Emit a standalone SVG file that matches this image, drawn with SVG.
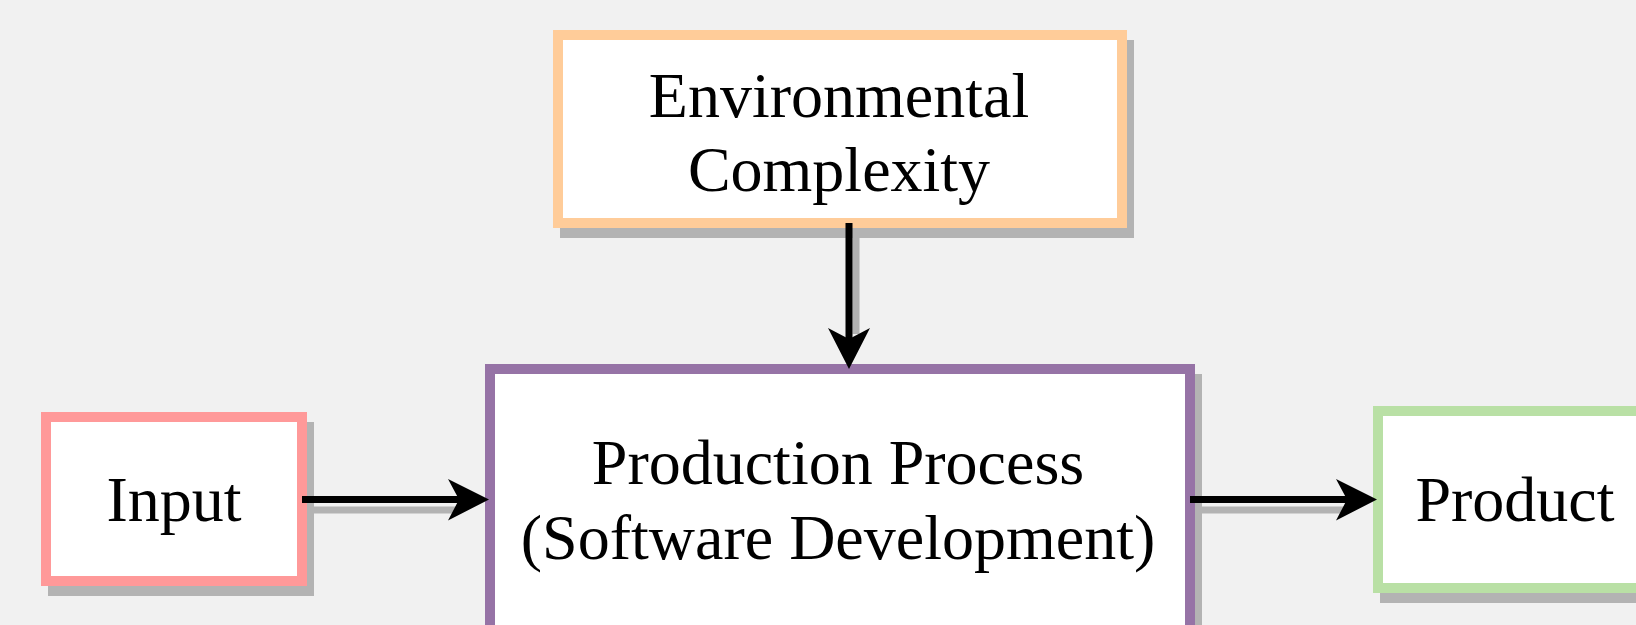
<svg xmlns="http://www.w3.org/2000/svg" width="1636" height="625" viewBox="0 0 1636 625">
  <defs>
    <style>
      .box { fill: #FFFFFF; stroke-width: 10; }
      .shadow { fill: #B3B3B3; }
      .label { font-family: "Liberation Serif", "Times New Roman", serif; font-size: 64px; fill: #000000; text-anchor: middle; }
      .wire { stroke: #000000; stroke-width: 7; fill: none; }
      .wire-shadow { stroke: #B3B3B3; stroke-width: 7; fill: none; }
      .head { fill: #000000; }
    </style>
  </defs>

  <rect width="1636" height="625" fill="#F1F1F1"/>

  <!-- Environmental Complexity -->
  <g id="environment">
    <rect class="shadow" x="560" y="40" width="574" height="198"/>
    <rect class="box" x="558" y="35" width="564" height="188" stroke="#FFCC99"/>
    <text class="label" x="839" y="117">Environmental</text>
    <text class="label" x="839" y="191">Complexity</text>
  </g>

  <!-- Input -->
  <g id="input">
    <rect class="shadow" x="48" y="422" width="266" height="174"/>
    <rect class="box" x="46" y="417" width="256" height="164" stroke="#FF9999"/>
    <text class="label" x="174" y="521">Input</text>
  </g>

  <!-- Production Process -->
  <g id="production">
    <rect class="shadow" x="492" y="374" width="710" height="271"/>
    <rect class="box" x="490" y="369" width="700" height="261" stroke="#9673A6"/>
    <text class="label" x="838" y="484">Production Process</text>
    <text class="label" x="838" y="559">(Software Development)</text>
  </g>

  <!-- Product -->
  <g id="product">
    <rect class="shadow" x="1380" y="416" width="284" height="187"/>
    <rect class="box" x="1378" y="411" width="274" height="177" stroke="#B9E0A5"/>
    <text class="label" x="1515" y="521">Product</text>
  </g>

  <!-- Connectors -->
  <g id="connectors">
    <!-- shadows -->
    <line class="wire-shadow" x1="856" y1="233" x2="856" y2="334"/>
    <line class="wire-shadow" x1="310" y1="510" x2="456" y2="510"/>
    <line class="wire-shadow" x1="1198" y1="510" x2="1344" y2="510"/>

    <!-- Environmental Complexity to Production Process -->
    <line class="wire" x1="849" y1="223" x2="849" y2="342"/>
    <path class="head" d="M849,369 L828,328 L849,339 L870,328 Z"/>

    <!-- Input to Production Process -->
    <line class="wire" x1="302" y1="499.5" x2="462" y2="499.5"/>
    <path class="head" d="M489,499.5 L448,479 L459,499.5 L448,520.5 Z"/>

    <!-- Production Process to Product -->
    <line class="wire" x1="1190" y1="499.5" x2="1349" y2="499.5"/>
    <path class="head" d="M1377,499.5 L1336,479 L1347,499.5 L1336,520.5 Z"/>
  </g>
</svg>
